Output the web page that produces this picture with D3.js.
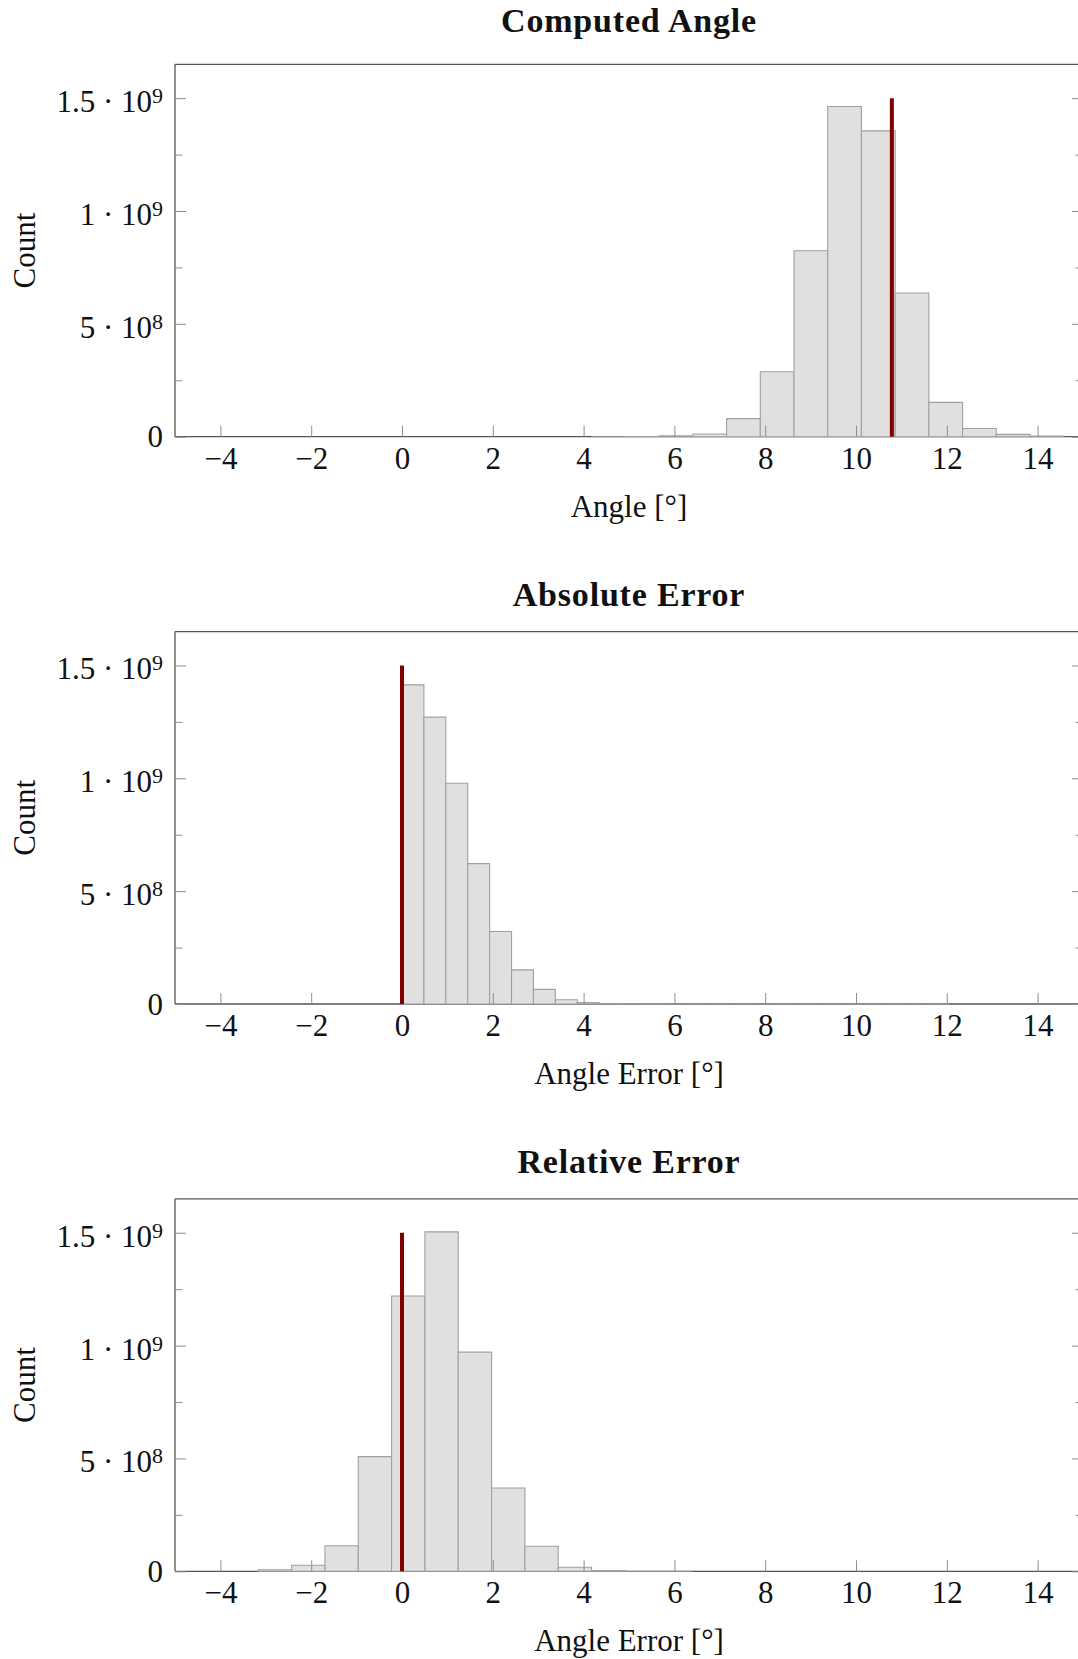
<!DOCTYPE html>
<html>
<head>
<meta charset="utf-8">
<script src="https://cdn.jsdelivr.net/npm/d3@7"></script>
<style>
  body { margin: 0; background: #fff; }
  svg { display: block; }
</style>
</head>
<body>
<svg id="chart" width="1078" height="1659"></svg>
<script>
// ---- Text ----
const panelTitles = ["Computed Angle", "Absolute Error", "Relative Error"];
const xAxisLabels = ["Angle [°]", "Angle Error [°]", "Angle Error [°]"];
const yAxisLabel = "Count";

// ---- Histogram bins: lower edge of the first bin and the bin width ----
const binStarts = [4.18, 0, -3.165];
const binWidths = [0.7425, 0.4825, 0.734];

// ---- Counts per bin ----
const computedAngleCounts = [
  2e4, 4e5, 4e6, 1.2e7, 8.0e7, 2.88e8, 8.24e8,
  1.463e9, 1.355e9, 6.37e8, 1.52e8, 3.6e7, 1.05e7, 3e6
];
const absoluteErrorCounts = [
  1.414e9, 1.271e9, 9.78e8, 6.22e8, 3.21e8, 1.51e8, 6.5e7, 1.9e7,
  6e6, 2.5e6, 8e5, 2e5, 0, 0, 0, 0, 0, 0, 0, 0, 0, 0, 0, 0, 0
];
const relativeErrorCounts = [
  7e6, 2.7e7, 1.13e8, 5.08e8, 1.22e9, 1.504e9, 9.71e8,
  3.69e8, 1.11e8, 1.8e7, 3e6, 3e5, 0
];
const panelCounts = [computedAngleCounts, absoluteErrorCounts, relativeErrorCounts];

// ---- Reference marker (vertical line) ----
const referenceValues = [10.79, 0, 0];
const referenceHeight = 1.5e9;

// ---- Axes ----
const xDomain = [-5, 15];
const yDomain = [0, 1.65e9];
const xTickValues = [-4, -2, 0, 2, 4, 6, 8, 10, 12, 14];
const yMajorTicks = [0, 5e8, 1e9, 1.5e9];
const yMinorTicks = [2.5e8, 7.5e8, 1.25e9];
const yTickMantissas = ["0", "5 · 10", "1 · 10", "1.5 · 10"];
const yTickExponents = [null, "8", "9", "9"];

// ---- Layout ----
const FONT = "'Liberation Serif', 'Times New Roman', serif";
const plotLeft = 175, plotRight = 1083;
const plotHeight = 372.4;
const panelTops = [64.3, 631.6, 1198.9];
const titleGaps = [32, 26, 26];   // baseline distance above the frame
const frameColor = "#555";
const tickColor = "#8e8e8e";
const barFill = "#e0e0e0";
const barStroke = "#a0a0a0";
const markerColor = "#800000";

const svg = d3.select("#chart");

const x = d3.scaleLinear().domain(xDomain).range([plotLeft, plotRight]);

panelCounts.forEach((counts, p) => {
  const top = panelTops[p];
  const bottom = top + plotHeight;
  const y = d3.scaleLinear().domain(yDomain).range([bottom, top]);
  const g = svg.append("g");

  // Frame (bottom, left, top, right)
  const frame = g.append("g").attr("stroke", frameColor).attr("stroke-width", 1.3).attr("fill", "none");
  frame.append("line").attr("x1", plotLeft).attr("x2", plotRight).attr("y1", bottom).attr("y2", bottom);
  frame.append("line").attr("x1", plotLeft).attr("x2", plotLeft).attr("y1", top).attr("y2", bottom);
  frame.append("line").attr("x1", plotLeft).attr("x2", plotRight).attr("y1", top).attr("y2", top);
  frame.append("line").attr("x1", plotRight).attr("x2", plotRight).attr("y1", top).attr("y2", bottom);

  // Histogram bars
  const bins = counts.map((c, i) => ({
    x0: binStarts[p] + i * binWidths[p],
    x1: binStarts[p] + (i + 1) * binWidths[p],
    count: c
  }));
  g.append("g").selectAll("path").data(bins).join("path")
    .attr("d", d => {
      const xa = x(d.x0), xb = x(d.x1), ya = y(0), yb = y(d.count);
      return `M${xa},${ya}V${yb}H${xb}V${ya}Z`;
    })
    .attr("fill", barFill)
    .attr("stroke", barStroke)
    .attr("stroke-width", 1.1);

  // x axis ticks (inward) and labels
  const xAxis = g.append("g")
    .attr("transform", `translate(0,${bottom})`)
    .call(d3.axisBottom(x).tickValues(xTickValues).tickSizeInner(-11).tickSizeOuter(0)
      .tickFormat(d => d < 0 ? "\u2212" + Math.abs(d) : String(d)));
  xAxis.select(".domain").remove();
  xAxis.attr("font-family", null).attr("font-size", null);
  xAxis.selectAll(".tick line").attr("stroke", tickColor).attr("stroke-width", 1);
  xAxis.selectAll(".tick text")
    .attr("y", 32).attr("dy", null)
    .attr("fill", "#111")
    .style("font-family", FONT).style("font-size", "31px");

  // y axis: major and minor ticks on both sides
  const yLeft = g.append("g").attr("transform", `translate(${plotLeft},0)`)
    .call(d3.axisLeft(y).tickValues(yMajorTicks).tickSizeInner(-11).tickSizeOuter(0).tickPadding(12)
      .tickFormat(""));
  yLeft.select(".domain").remove();
  yLeft.attr("font-family", null).attr("font-size", null);
  yLeft.selectAll(".tick line").attr("stroke", tickColor).attr("stroke-width", 1);
  yLeft.selectAll(".tick text").each(function(d, i) {
    const t = d3.select(this)
      .attr("fill", "#111")
      .attr("dy", yTickExponents[i] ? "13.4" : "10")
      .style("font-family", FONT).style("font-size", "31px");
    t.append("tspan").text(yTickMantissas[i]);
    if (yTickExponents[i]) {
      t.append("tspan").attr("dy", -9).style("font-size", "22px").text(yTickExponents[i]);
    }
  });

  const yLeftMinor = g.append("g").attr("transform", `translate(${plotLeft},0)`)
    .call(d3.axisLeft(y).tickValues(yMinorTicks).tickSizeInner(-7.5).tickSizeOuter(0).tickFormat(""));
  yLeftMinor.select(".domain").remove();
  yLeftMinor.selectAll(".tick line").attr("stroke", tickColor).attr("stroke-width", 1);

  const yRight = g.append("g").attr("transform", `translate(${plotRight},0)`)
    .call(d3.axisRight(y).tickValues(yMajorTicks).tickSizeInner(-11).tickSizeOuter(0).tickFormat(""));
  yRight.select(".domain").remove();
  yRight.selectAll(".tick line").attr("stroke", tickColor).attr("stroke-width", 1);

  const yRightMinor = g.append("g").attr("transform", `translate(${plotRight},0)`)
    .call(d3.axisRight(y).tickValues(yMinorTicks).tickSizeInner(-7.5).tickSizeOuter(0).tickFormat(""));
  yRightMinor.select(".domain").remove();
  yRightMinor.selectAll(".tick line").attr("stroke", tickColor).attr("stroke-width", 1);

  // Reference marker
  g.append("line")
    .attr("x1", x(referenceValues[p])).attr("x2", x(referenceValues[p]))
    .attr("y1", y(0)).attr("y2", y(referenceHeight))
    .attr("stroke", markerColor).attr("stroke-width", 4);

  // Title
  const cx = (plotLeft + plotRight) / 2;
  g.append("text")
    .attr("x", cx).attr("y", top - titleGaps[p])
    .attr("text-anchor", "middle")
    .style("font-family", FONT).style("font-size", "34px").style("font-weight", "bold")
    .style("letter-spacing", "0.8px")
    .attr("fill", "#111")
    .text(panelTitles[p]);

  // x axis label
  g.append("text")
    .attr("x", cx).attr("y", bottom + 80)
    .attr("text-anchor", "middle")
    .style("font-family", FONT).style("font-size", "31px")
    .attr("fill", "#111")
    .text(xAxisLabels[p]);

  // y axis label
  g.append("text")
    .attr("transform", `translate(35,${(top + bottom) / 2}) rotate(-90)`)
    .attr("text-anchor", "middle")
    .style("font-family", FONT).style("font-size", "31px")
    .attr("fill", "#111")
    .text(yAxisLabel);
});
</script>
</body>
</html>
